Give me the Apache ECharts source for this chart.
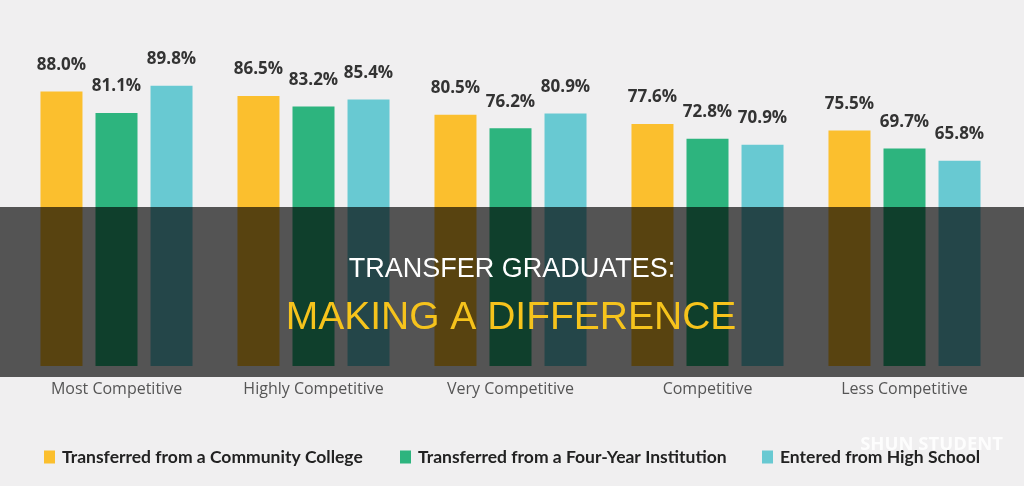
<!DOCTYPE html>
<html>
<head>
<meta charset="utf-8">
<style>
  html, body { margin: 0; padding: 0; background: #f0eff0; }
  #chart { width: 1024px; height: 486px; }
</style>
<script src="https://cdn.jsdelivr.net/npm/echarts@6/dist/echarts.min.js"></script>
</head>
<body>
<div id="chart"></div>
<script>
const categories = ['Most Competitive', 'Highly Competitive', 'Very Competitive', 'Competitive', 'Less Competitive'];
const seriesNames = ['Transferred from a Community College', 'Transferred from a Four-Year Institution', 'Entered from High School'];
const communityCollege = [88.0, 86.5, 80.5, 77.6, 75.5];
const fourYear = [81.1, 83.2, 76.2, 72.8, 69.7];
const highSchool = [89.8, 85.4, 80.9, 70.9, 65.8];
const colors = ['#fbbf2e', '#2db47e', '#68c9d2'];
const titleLine1 = 'TRANSFER GRADUATES:';
const titleLine2 = 'MAKING A DIFFERENCE';
const watermark = 'SHUN STUDENT';

const allValues = [communityCollege, fourYear, highSchool];
const chart = echarts.init(document.getElementById('chart'), null, { renderer: 'canvas' });

const legendLefts = [39, 395, 757];
const legends = seriesNames.map((n, i) => ({
  data: [n],
  left: legendLefts[i],
  top: 443,
  itemWidth: 11,
  itemHeight: 13,
  icon: 'rect',
  selectedMode: false,
  textStyle: { fontFamily: 'Lato', fontWeight: 'bold', fontSize: 17.5, color: '#222', padding: [0, 0, 0, 2] }
}));

chart.setOption({
  backgroundColor: '#f0eff0',
  animation: false,
  color: colors,
  grid: { left: 18, right: 21, top: 54, bottom: 120 },
  legend: legends,
  xAxis: {
    type: 'category',
    data: categories,
    axisLine: { show: false },
    axisTick: { show: false },
    axisLabel: { color: '#555', fontFamily: 'Open Sans', fontSize: 16, margin: 15 }
  },
  yAxis: { type: 'value', min: 0, max: 100, show: false, splitLine: { show: false } },
  series: allValues.map((vals, i) => ({
    name: seriesNames[i],
    type: 'bar',
    data: vals,
    barWidth: 42,
    barGap: '31%',
    itemStyle: { color: colors[i] },
    label: {
      show: true,
      position: 'top',
      distance: 18,
      formatter: p => p.value.toFixed(1) + '%',
      fontFamily: 'Open Sans',
      fontWeight: 'bold',
      fontSize: 17,
      color: '#333'
    }
  })),
  graphic: [
    { type: 'rect', z: 100, shape: { x: 0, y: 207, width: 1024, height: 170 }, style: { fill: 'rgba(0,0,0,0.65)' } },
    { type: 'text', z: 101, x: 512, y: 270, style: { text: titleLine1, fill: '#ffffff', font: '27px "Liberation Sans", Arial, sans-serif', textAlign: 'center', textVerticalAlign: 'middle' } },
    { type: 'text', z: 101, x: 511, y: 318, style: { text: titleLine2, fill: '#f6c31c', font: '39px "Liberation Sans", Arial, sans-serif', textAlign: 'center', textVerticalAlign: 'middle' } },
    { type: 'text', z: 101, x: 1003, y: 445, style: { text: watermark, fill: 'rgba(255,255,255,0.85)', font: 'bold 18.5px "Open Sans", sans-serif', textAlign: 'right', textVerticalAlign: 'middle' } }
  ]
});
</script>
</body>
</html>
